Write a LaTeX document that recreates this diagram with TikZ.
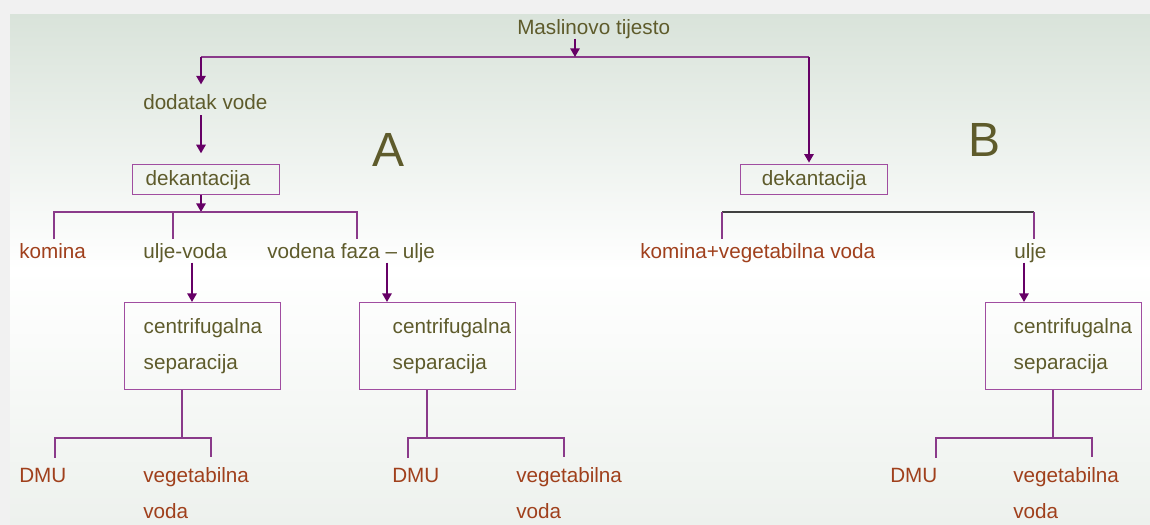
\documentclass[tikz,border=0pt]{standalone}
\usepackage{fontspec}
\setmainfont{Liberation Sans}
\usetikzlibrary{arrows.meta,positioning}
\definecolor{olivetxt}{HTML}{5E5B2B}
\definecolor{redtxt}{HTML}{A0401C}
\definecolor{arrcol}{HTML}{660066}
\definecolor{boxcol}{HTML}{A04DA0}
\definecolor{linecol}{HTML}{8A3A8A}
\definecolor{greyline}{HTML}{404040}
\definecolor{bgtop}{HTML}{D9E3DA}
\definecolor{bgbot}{HTML}{EDF1ED}
\definecolor{framecol}{HTML}{F1F1F1}

\begin{document}
\begin{tikzpicture}[x=0.75pt,y=-0.75pt,
        >={Triangle[width=7pt,length=6.5pt]},
        every node/.style={font=\fontsize{15.5}{27.5}\selectfont,inner sep=0pt},
        txt/.style={text=olivetxt,anchor=base west},
        prod/.style={text=redtxt,anchor=base west},
        prodtwo/.style={text=redtxt,anchor=north west,align=left},
        proc/.style={draw=boxcol,line width=1.1pt,text=olivetxt,anchor=north west,
            inner xsep=9.75pt,text width=90.75pt,minimum height=22.5pt,align=left},
        sepbox/.style={draw=boxcol,line width=1.1pt,text=olivetxt,anchor=north west,
            inner xsep=14.25pt,text width=88.5pt,minimum height=65.25pt,align=left},
        big/.style={font=\fontsize{36}{40}\selectfont,text=olivetxt},
        arr/.style={->,draw=arrcol,line width=1.5pt},
        tee/.style={draw=linecol,line width=1.1pt}]
        \useasboundingbox (0,0) rectangle (1150,525);
        \fill[framecol] (0,0) rectangle (1150,525);
        \shade[top color=bgtop,bottom color=bgbot,middle color=white] (10,14) rectangle (1150,525);

        \node[txt]                    at (517,34)  (tijesto)  {Maslinovo tijesto};
        \node[txt]                    at (143,109) (dodatak)  {dodatak vode};
        \node[proc]                   at (132,164) (dekA)     {dekantacija};
        \node[proc,align=center]      at (740,164) (dekB)     {dekantacija};
        \node[big]                    at (389,150) (labA)     {A};
        \node[big]                    at (984,140) (labB)     {B};
        \node[prod]                   at (19,258)  (kominaA)  {komina};
        \node[txt]                    at (143,258) (uljevoda) {ulje-voda};
        \node[txt]                    at (267,258) (vodena)   {vodena faza -- ulje};
        \node[prod]                   at (640,258) (kominaB)  {komina+vegetabilna voda};
        \node[txt]                    at (1014,258) (uljeB)   {ulje};
        \node[sepbox]                 at (124,302) (cenA)     {centrifugalna\\separacija};
        \node[sepbox,inner xsep=24.75pt,text width=67.5pt]
                                      at (359,302) (cenB)     {centrifugalna\\separacija};
        \node[sepbox,inner xsep=21pt,text width=75pt]
                                      at (985,302) (cenC)     {centrifugalna\\separacija};
        \node[prod]                   at (19,482)  (dmuA)     {DMU};
        \node[prodtwo]                at (143,467) (vegA)     {vegetabilna\\voda};
        \node[prod]                   at (392,482) (dmuB)     {DMU};
        \node[prodtwo]                at (516,467) (vegB)     {vegetabilna\\voda};
        \node[prod]                   at (890,482) (dmuC)     {DMU};
        \node[prodtwo]                at (1013,467) (vegC)    {vegetabilna\\voda};

        \coordinate (s0) at (575,57);
        \coordinate (la) at (201,57);
        \coordinate (rb) at (809,57);
        \coordinate (sA) at (201,212);
        \coordinate (jA1) at (54,212);
        \coordinate (jA2) at (173,212);
        \coordinate (jA3) at (357,212);
        \coordinate (jB1) at (722,212);
        \coordinate (jB2) at (1034,212);
        \coordinate (aA) at (192,302);
        \coordinate (aB) at (387,302);
        \coordinate (aC) at (1024,302);
        \coordinate (dA) at (182,438);
        \coordinate (dA1) at (55,438);
        \coordinate (dA2) at (211,438);
        \coordinate (dB) at (427,438);
        \coordinate (dB1) at (408,438);
        \coordinate (dB2) at (564,438);
        \coordinate (dC) at (1053,438);
        \coordinate (dC1) at (936,438);
        \coordinate (dC2) at (1092,438);

        \draw[tee,line width=1.5pt] (la) -- (rb);
        \draw[arr] (tijesto.south -| s0) -- (s0);
        \draw[arr,shorten >=7pt] (la) -- (dodatak.north -| la);
        \draw[arr,shorten <=4.5pt,shorten >=8pt] (dodatak.south -| la) -- (dekA.north -| la);
        \draw[arr,shorten >=1pt] (rb) -- (dekB.north -| rb);
        \draw[arr] (dekA.south -| sA) -- (sA);

        \draw[tee,shorten <=2.5pt,shorten >=2.5pt] (kominaA.north -| jA1) |- (jA3) -- (vodena.north -| jA3);
        \draw[tee,shorten >=2.5pt] (jA2) -- (uljevoda.north -| jA2);
        \draw[tee,draw=greyline] (jB1) -- (jB2);
        \draw[tee,shorten >=2.5pt] (jB1) -- (kominaB.north -| jB1);
        \draw[tee,shorten >=2.5pt] (jB2) -- (uljeB.north -| jB2);

        \draw[arr] (uljevoda.south -| aA) -- (cenA.north -| aA);
        \draw[arr] (vodena.south -| aB) -- (cenB.north -| aB);
        \draw[arr] (uljeB.south -| aC) -- (cenC.north -| aC);

        \draw[tee] (cenA.south -| dA) -- (dA);
        \draw[tee,shorten <=7.5pt,shorten >=7.5pt] (dmuA.north -| dA1) |- (dA2) -- (vegA.north -| dA2);
        \draw[tee] (cenB.south -| dB) -- (dB);
        \draw[tee,shorten <=7.5pt,shorten >=7.5pt] (dmuB.north -| dB1) |- (dB2) -- (vegB.north -| dB2);
        \draw[tee] (cenC.south -| dC) -- (dC);
        \draw[tee,shorten <=7.5pt,shorten >=7.5pt] (dmuC.north -| dC1) |- (dC2) -- (vegC.north -| dC2);
    \end{tikzpicture}
\end{document}
